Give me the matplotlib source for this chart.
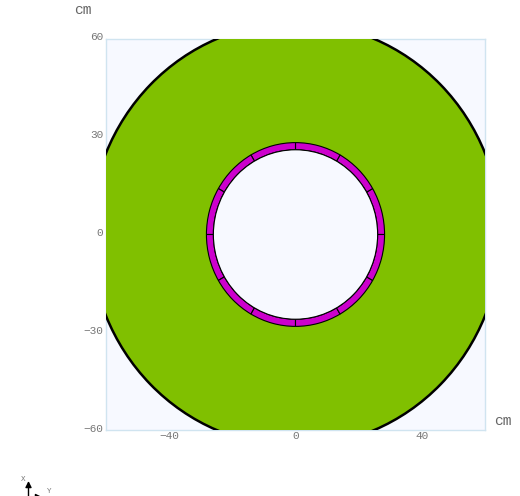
import matplotlib
matplotlib.use("Agg")
import matplotlib.pyplot as plt
from matplotlib.patches import Circle, Wedge
from matplotlib.transforms import ScaledTranslation
import numpy as np

# Cross section of the detector, lengths in cm
outer_radius = 65
ring_outer = 28.2
ring_inner = 26
segment_angles = [0, 30, 60, 90, 120, 150, 180, 210, 240, 270, 300, 330]
x_ticks = [-40, 0, 40]
y_ticks = [-60, -30, 0, 30, 60]

W, H = 520, 496
fig = plt.figure(figsize=(W / 100, H / 100), dpi=100)
ax = fig.add_axes([106 / W, 1 - 430 / H, 379 / W, 391 / H], facecolor="#f7f9ff")
ax.set_xlim(-60, 60)
ax.set_ylim(-60, 60)

ax.add_patch(Circle((0, 0), outer_radius, fc="#80c000", ec="black", lw=1.8))
# ring is made of 12 segments
for a in segment_angles:
    ax.add_patch(Wedge((0, 0), ring_outer, a, a + 30, width=ring_outer - ring_inner,
                       fc="#cc00cc", ec="black", lw=0.8))
ax.add_patch(Circle((0, 0), ring_inner, fc="#f7f9ff", ec="black", lw=0.8))

for s in ax.spines.values():
    s.set_color("#d0e4f0")
    s.set_linewidth(1)
    s.set_zorder(0.5)
ax.set_xticks(x_ticks)
ax.set_yticks(y_ticks)
ax.tick_params(axis="x", length=0, labelsize=8, labelcolor="#777777", pad=1)
ax.tick_params(axis="y", length=0, labelsize=8, labelcolor="#777777", pad=2)
shift = ScaledTranslation(0, 2.5 / 100, fig.dpi_scale_trans)
for t in ax.get_xticklabels() + ax.get_yticklabels():
    t.set_family("Liberation Mono")
for t in ax.get_yticklabels():
    t.set_transform(t.get_transform() + shift)

fig.text(83 / W, 1 - 10 / H, "cm", family="Liberation Mono", fontsize=10.5,
         color="#666666", ha="center", va="center")
fig.text(503 / W, 1 - 421 / H, "cm", family="Liberation Mono", fontsize=10.5,
         color="#666666", ha="center", va="center")

# little axis marker in the corner, cut off by the edge of the picture
fig.text(23.5 / W, 1 - 479.5 / H, "X", family="Liberation Mono", fontsize=5.5,
         color="#777777", ha="center", va="center")
fig.text(49.5 / W, 1 - 491.5 / H, "Y", family="Liberation Mono", fontsize=5.5,
         color="#777777", ha="center", va="center")
marker = fig.add_axes([0, 0, 1, 1], facecolor="none")
marker.set_xlim(0, W)
marker.set_ylim(H, 0)
marker.axis("off")
marker.annotate("", xy=(28.5, 481), xytext=(28.5, 497),
                arrowprops=dict(arrowstyle="-|>", color="black", lw=1, mutation_scale=9,
                                shrinkA=0, shrinkB=0))
marker.annotate("", xy=(42, 497), xytext=(28.5, 497),
                arrowprops=dict(arrowstyle="-|>", color="black", lw=1, mutation_scale=9,
                                shrinkA=0, shrinkB=0), annotation_clip=False)

fig.savefig("out.png", dpi=100)
